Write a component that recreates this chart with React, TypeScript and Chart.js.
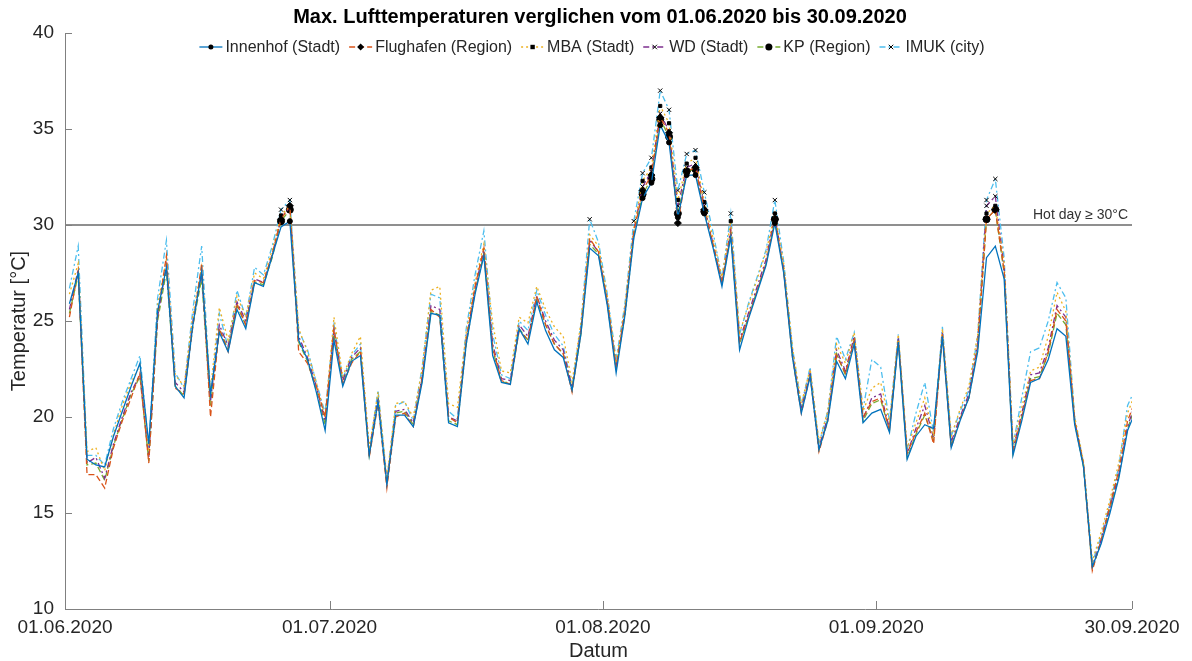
import React, { useEffect, useRef } from "react";
import { Chart, registerables } from "chart.js";
Chart.register(...registerables);

const TITLE = "Max. Lufttemperaturen verglichen vom 01.06.2020 bis 30.09.2020";
const X_TITLE = "Datum";
const Y_TITLE = "Temperatur [°C]";
const X_TICK_DAYS = [0, 30, 61, 92, 121];
const X_TICK_LABELS = ["01.06.2020", "01.07.2020", "01.08.2020", "01.09.2020", "30.09.2020"];
const Y_TICKS = [10, 15, 20, 25, 30, 35, 40];
const HOT_DAY = 30;
const HOT_LABEL = "Hot day ≥ 30°C";

const SERIES_NAMES = ["Innenhof (Stadt)", "Flughafen (Region)", "MBA (Stadt)", "WD (Stadt)", "KP (Region)", "IMUK (city)"];

const innenhof = [
  25.9, 27.5, 17.8, 17.5, 17.4, 19.0, 20.3, 21.6, 22.8, 18.6,
  25.5, 27.8, 21.6, 21.0, 24.8, 27.6, 21.2, 24.4, 23.4, 25.6,
  24.6, 27.0, 26.8, 28.4, 29.9, 30.2, 24.0, 23.0, 21.3, 19.3,
  24.0, 21.6, 22.9, 23.2, 18.0, 20.8, 16.5, 20.1, 20.1, 19.5,
  21.8, 25.4, 25.3, 19.7, 19.5, 23.8, 26.4, 28.4, 23.2, 21.8,
  21.7, 24.6, 23.8, 26.0, 24.5, 23.5, 23.1, 21.4, 24.3, 28.8,
  28.4, 25.8, 22.3, 25.3, 29.3, 31.4, 32.2, 35.2, 34.3, 30.4,
  32.6, 32.6, 30.6, 28.8, 26.8, 29.4, 23.5, 25.1, 26.5, 27.9,
  30.1, 27.5, 23.1, 20.2, 22.1, 18.3, 19.8, 22.9, 22.0, 23.8,
  19.7, 20.2, 20.4, 19.2, 23.9, 17.8, 19.0, 19.6, 19.4, 24.2,
  18.4, 19.8, 21.0, 23.4, 28.3, 28.9, 27.2, 18.0, 19.8, 21.8,
  22.0, 23.0, 24.6, 24.2, 19.6, 17.4, 12.2, 13.4, 15.0, 16.8,
  19.3, 20.4,
];
const flughafen = [
  25.2, 27.6, 17.0, 17.0, 16.3, 18.4, 19.8, 21.0, 22.3, 17.6,
  25.3, 28.4, 21.5, 21.2, 24.7, 28.0, 20.0, 24.6, 23.4, 25.9,
  24.8, 27.1, 27.0, 28.5, 30.3, 31.0, 23.4, 22.8, 21.6, 20.0,
  24.6, 21.7, 22.8, 23.4, 17.9, 20.7, 16.3, 20.0, 20.2, 19.5,
  22.0, 25.6, 25.2, 20.0, 19.7, 24.0, 26.8, 28.8, 23.6, 21.9,
  21.7, 24.5, 24.0, 26.3, 24.8, 23.8, 23.3, 21.3, 24.4, 29.3,
  28.6, 26.0, 22.6, 25.5, 29.6, 31.8, 32.6, 35.6, 34.8, 30.1,
  32.8, 33.0, 30.8, 29.0, 27.0, 29.6, 23.9, 25.2, 26.6, 28.0,
  30.3, 27.6, 23.1, 20.2, 22.2, 18.2, 19.8, 23.2, 22.3, 24.0,
  20.0, 20.8, 21.0, 19.3, 24.0, 18.1, 19.2, 20.2, 18.6, 24.3,
  18.4, 19.9, 21.0, 23.7, 30.3, 30.8, 27.6, 18.2, 20.0, 21.9,
  22.0, 23.4, 25.6, 25.0, 19.8, 17.5, 12.0, 13.6, 15.4, 17.2,
  19.8, 21.0,
];
const mba = [
  26.4, 28.0, 18.2, 18.4, 17.2, 19.1, 20.6, 21.8, 22.7, 18.2,
  25.8, 28.2, 22.2, 21.6, 25.3, 27.8, 21.4, 25.7, 24.0, 26.3,
  25.2, 27.5, 27.2, 28.7, 30.5, 31.0, 24.6, 23.4, 21.8, 20.0,
  25.2, 22.1, 23.3, 24.2, 18.4, 21.3, 16.8, 20.7, 20.8, 20.0,
  22.5, 26.6, 26.8, 20.7, 20.5, 24.4, 27.0, 29.0, 24.9, 22.4,
  22.3, 25.2, 24.9, 26.8, 25.6, 24.7, 24.2, 21.8, 24.9, 29.5,
  28.9, 26.3, 22.8, 25.8, 29.8, 32.3, 33.0, 36.2, 35.3, 31.3,
  33.2, 33.5, 31.2, 29.3, 27.3, 30.2, 24.4, 25.8, 27.2, 28.6,
  30.6, 28.0, 23.6, 20.7, 22.5, 18.7, 20.3, 23.8, 22.8, 24.4,
  20.3, 21.5, 21.8, 19.7, 24.3, 18.4, 19.7, 21.0, 19.0, 24.6,
  19.0, 20.4, 21.6, 24.3, 30.6, 31.0, 28.0, 18.6, 20.5, 22.4,
  22.6, 24.2, 26.5, 25.5, 20.0, 17.7, 12.5, 14.0, 15.7, 17.6,
  20.2, 21.4,
];
const wd = [
  25.6, 27.7, 17.6, 17.9, 16.8, 18.6, 20.0, 21.3, 22.2, 17.9,
  25.2, 27.9, 21.8, 21.3, 25.0, 27.5, 20.8, 24.8, 23.7, 26.0,
  25.0, 27.2, 27.0, 28.4, 30.4, 30.9, 24.2, 23.1, 21.6, 19.8,
  24.5, 21.9, 23.1, 23.6, 18.2, 21.0, 16.6, 20.3, 20.4, 19.7,
  22.1, 25.8, 25.6, 20.0, 19.8, 24.0, 26.7, 28.7, 23.8, 22.0,
  21.9, 24.8, 24.2, 26.3, 25.0, 24.0, 23.5, 21.5, 24.5, 29.2,
  28.6, 26.0, 22.6, 25.5, 29.7, 32.0, 32.8, 35.8, 34.9, 31.0,
  33.0, 33.2, 31.0, 29.0, 27.0, 29.8, 24.0, 25.4, 26.8, 28.2,
  30.5, 27.7, 23.3, 20.4, 22.3, 18.4, 20.0, 23.5, 22.4, 24.2,
  19.9, 21.0, 21.2, 19.4, 24.1, 18.1, 19.4, 20.6, 18.9, 24.4,
  18.7, 20.0, 21.2, 23.8, 31.0, 31.5, 27.8, 18.3, 20.2, 22.2,
  22.3, 23.6, 25.8, 25.2, 19.8, 17.5, 12.2, 13.6, 15.3, 17.0,
  19.5, 20.9,
];
const kp = [
  25.4, 27.4, 17.5, 17.6, 16.7, 18.5, 19.9, 21.2, 22.1, 17.7,
  25.0, 27.6, 21.6, 21.1, 24.8, 27.2, 20.6, 24.6, 23.5, 25.8,
  24.8, 27.0, 26.9, 28.3, 30.2, 30.8, 23.9, 22.9, 21.4, 19.6,
  24.3, 21.7, 23.0, 23.4, 18.0, 20.9, 16.5, 20.2, 20.3, 19.6,
  21.9, 25.5, 25.3, 19.8, 19.6, 23.8, 26.5, 28.5, 23.5, 21.8,
  21.8, 24.6, 24.0, 26.1, 24.8, 23.8, 23.3, 21.4, 24.3, 29.0,
  28.5, 25.9, 22.5, 25.3, 29.4, 31.6, 32.4, 35.5, 34.6, 30.6,
  32.8, 32.9, 30.7, 28.9, 26.9, 29.5, 23.8, 25.2, 26.6, 28.0,
  30.3, 27.6, 23.2, 20.3, 22.2, 18.3, 19.9, 23.3, 22.2, 24.0,
  19.8, 20.7, 20.9, 19.3, 24.0, 17.9, 19.1, 20.1, 18.8, 24.3,
  18.5, 19.9, 21.0, 23.6, 30.3, 30.8, 27.5, 18.1, 20.0, 22.0,
  22.1, 23.3, 25.4, 24.8, 19.7, 17.4, 12.1, 13.5, 15.2, 16.9,
  19.4, 20.7,
];
const imuk = [
  26.7, 28.9, 18.0, 18.0, 17.5, 19.4, 20.8, 22.0, 23.2, 18.4,
  26.2, 29.2, 22.3, 21.5, 25.6, 28.9, 21.0, 25.4, 23.6, 26.6,
  25.2, 27.8, 27.4, 28.9, 30.8, 31.3, 24.5, 23.5, 21.8, 20.2,
  24.8, 22.0, 23.2, 23.8, 18.2, 21.4, 16.7, 20.6, 20.8, 19.8,
  22.6, 26.4, 26.2, 20.3, 19.9, 24.6, 27.4, 29.7, 24.3, 22.2,
  22.0, 25.0, 24.5, 26.6, 25.3, 24.3, 23.7, 21.6, 24.8, 30.3,
  29.1, 26.4, 23.0, 25.9, 30.2, 32.7, 33.5, 37.0, 36.0, 31.8,
  33.7, 33.9, 31.7, 29.6, 27.2, 30.6, 24.3, 25.9, 27.3, 28.7,
  31.3, 28.1, 23.6, 20.6, 22.6, 18.6, 20.3, 24.2, 23.0, 24.4,
  20.4, 23.0, 22.6, 19.8, 24.3, 18.3, 20.2, 21.8, 19.2, 24.7,
  19.0, 20.3, 21.4, 24.2, 31.3, 32.4, 28.3, 18.5, 21.0, 23.4,
  23.6, 25.0, 27.0, 26.2, 20.0, 17.6, 12.4, 13.8, 15.5, 17.4,
  20.6, 21.6,
];

const SERIES_VALUES = [innenhof, flughafen, mba, wd, kp, imuk];
const SERIES_COLORS = ["#0072BD", "#D95319", "#EDB120", "#7E2F8E", "#77AC30", "#4DBEEE"];
const SERIES_DASH: number[][] = [[], [6, 3], [2, 3], [6, 3, 2, 3], [6, 3], [6, 3, 2, 3]];
const SERIES_MARKERS = ["circle", "rectRot", "rect", "crossRot", "circle", "crossRot"];
const SERIES_MARKER_SIZE = [2.5, 3.5, 2.2, 3, 3.5, 3];

const FONT = "'Liberation Sans', Arial, Helvetica, sans-serif";
const TEXT = "#262626";

function drawMarker(ctx: CanvasRenderingContext2D, style: string, x: number, y: number, r: number) {
  ctx.save();
  ctx.fillStyle = "#000";
  ctx.strokeStyle = "#000";
  ctx.lineWidth = 1;
  ctx.setLineDash([]);
  ctx.beginPath();
  if (style === "circle") {
    ctx.arc(x, y, r, 0, Math.PI * 2);
    ctx.fill();
  } else if (style === "rectRot") {
    ctx.moveTo(x, y - r);
    ctx.lineTo(x + r, y);
    ctx.lineTo(x, y + r);
    ctx.lineTo(x - r, y);
    ctx.closePath();
    ctx.fill();
  } else if (style === "rect") {
    ctx.rect(x - r, y - r, 2 * r, 2 * r);
    ctx.fill();
  } else {
    const d = r * 0.75;
    ctx.moveTo(x - d, y - d);
    ctx.lineTo(x + d, y + d);
    ctx.moveTo(x + d, y - d);
    ctx.lineTo(x - d, y + d);
    ctx.stroke();
  }
  ctx.restore();
}

const decorPlugin = {
  id: "decor",
  beforeDatasetsDraw(chart: any) {
    const { ctx, chartArea: a, scales } = chart;
    const y = scales.y.getPixelForValue(HOT_DAY);
    ctx.save();
    ctx.strokeStyle = "#8f8f8f";
    ctx.lineWidth = 2;
    ctx.beginPath();
    ctx.moveTo(a.left, y);
    ctx.lineTo(a.right, y);
    ctx.stroke();
    ctx.fillStyle = "#333";
    ctx.font = `14px ${FONT}`;
    ctx.textAlign = "right";
    ctx.textBaseline = "bottom";
    ctx.fillText(HOT_LABEL, a.right - 4, y - 3);
    ctx.restore();
  },
  afterDraw(chart: any) {
    const { ctx, chartArea: a, scales } = chart;
    ctx.save();
    // axes
    ctx.strokeStyle = "#808080";
    ctx.lineWidth = 1;
    ctx.beginPath();
    ctx.moveTo(a.left + 0.5, a.top);
    ctx.lineTo(a.left + 0.5, a.bottom + 0.5);
    ctx.lineTo(a.right, a.bottom + 0.5);
    ctx.stroke();
    ctx.beginPath();
    for (const v of Y_TICKS) {
      const py = Math.round(scales.y.getPixelForValue(v)) + 0.5;
      ctx.moveTo(a.left, py);
      ctx.lineTo(a.left + 7, py);
    }
    for (const d of X_TICK_DAYS) {
      const px = Math.round(scales.x.getPixelForValue(d)) + 0.5;
      ctx.moveTo(px, a.bottom);
      ctx.lineTo(px, a.bottom - 8);
    }
    ctx.stroke();

    // title
    ctx.fillStyle = "#000";
    ctx.font = `bold 20px ${FONT}`;
    ctx.textAlign = "center";
    ctx.textBaseline = "middle";
    ctx.fillText(TITLE, 600, 17);

    // axis titles
    ctx.fillStyle = TEXT;
    ctx.font = `20px ${FONT}`;
    ctx.fillText(X_TITLE, (a.left + a.right) / 2, 651);
    ctx.save();
    ctx.translate(19, (a.top + a.bottom) / 2);
    ctx.rotate(-Math.PI / 2);
    ctx.fillText(Y_TITLE, 0, 0);
    ctx.restore();

    // legend
    ctx.font = `16px ${FONT}`;
    const lineLen = 23;
    const gapText = 3;
    const gapItem = 9;
    const widths = SERIES_NAMES.map((n) => lineLen + gapText + ctx.measureText(n).width);
    const total = widths.reduce((s, w) => s + w, 0) + gapItem * (SERIES_NAMES.length - 1);
    let x = 592 - total / 2;
    const ly = 47;
    SERIES_NAMES.forEach((name, i) => {
      ctx.save();
      ctx.strokeStyle = SERIES_COLORS[i];
      ctx.lineWidth = 1.3;
      ctx.setLineDash(SERIES_DASH[i]);
      ctx.beginPath();
      ctx.moveTo(x, ly);
      ctx.lineTo(x + lineLen, ly);
      ctx.stroke();
      ctx.restore();
      drawMarker(ctx, SERIES_MARKERS[i], x + lineLen / 2, ly, SERIES_MARKER_SIZE[i]);
      ctx.fillStyle = TEXT;
      ctx.textAlign = "left";
      ctx.textBaseline = "middle";
      ctx.fillText(name, x + lineLen + gapText, ly + 1);
      x += widths[i] + gapItem;
    });
    ctx.restore();
  },
};

export default function App() {
  const ref = useRef<HTMLCanvasElement | null>(null);
  useEffect(() => {
    if (!ref.current) return;
    const datasets = SERIES_NAMES.map((name, i) => ({
      label: name,
      data: SERIES_VALUES[i].map((v, d) => ({ x: d + 0.5, y: v })),
      borderColor: SERIES_COLORS[i],
      borderWidth: 1.3,
      borderDash: SERIES_DASH[i],
      pointStyle: SERIES_MARKERS[i],
      pointRadius: (c: any) => (c.raw && c.raw.y >= HOT_DAY ? SERIES_MARKER_SIZE[i] : 0),
      pointBackgroundColor: "#000",
      pointBorderColor: "#000",
      pointBorderWidth: 1,
      tension: 0,
      fill: false,
    }));
    const chart = new Chart(ref.current, {
      type: "line",
      data: { datasets },
      plugins: [decorPlugin],
      options: {
        responsive: false,
        animation: false,
        devicePixelRatio: 1,
        layout: { padding: { top: 33, right: 60, left: 0, bottom: 0 } },
        plugins: { legend: { display: false }, title: { display: false }, tooltip: { enabled: false } },
        scales: {
          x: {
            type: "linear",
            min: 0,
            max: 121,
            afterBuildTicks: (s: any) => {
              s.ticks = X_TICK_DAYS.map((v) => ({ value: v }));
            },
            afterFit: (s: any) => {
              s.height = 52;
            },
            ticks: {
              autoSkip: false,
              maxRotation: 0,
              minRotation: 0,
              padding: 7,
              color: TEXT,
              font: { family: FONT, size: 19 },
              callback: (v: any) => {
                const k = X_TICK_DAYS.indexOf(Number(v));
                return k >= 0 ? X_TICK_LABELS[k] : "";
              },
            },
            grid: { display: false, drawTicks: false },
            border: { display: false },
          },
          y: {
            type: "linear",
            min: 10,
            max: 40,
            afterBuildTicks: (s: any) => {
              s.ticks = Y_TICKS.map((v) => ({ value: v }));
            },
            afterFit: (s: any) => {
              s.width = 65;
            },
            ticks: { padding: 11, color: TEXT, font: { family: FONT, size: 19 } },
            grid: { display: false, drawTicks: false },
            border: { display: false },
          },
        },
      } as any,
    });
    return () => chart.destroy();
  }, []);
  return (
    <div style={{ position: "fixed", left: 0, top: 0, width: 1192, height: 661, background: "#fff" }}>
      <canvas ref={ref} width={1192} height={661} />
    </div>
  );
}
